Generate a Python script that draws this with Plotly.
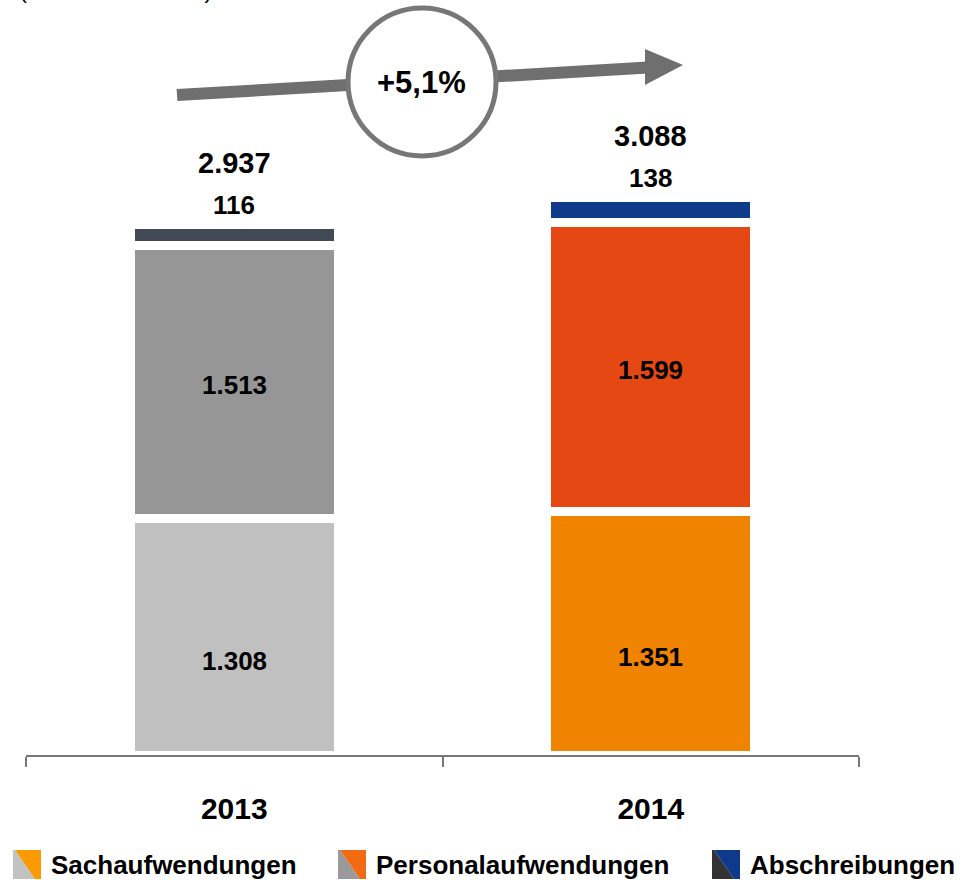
import plotly.graph_objects as go

# Aufwendungen in Mio. Euro
years = ["2013", "2014"]
sachaufwendungen = [1308, 1351]
personalaufwendungen = [1513, 1599]
abschreibungen = [116, 138]
growth_label = "+5,1%"
unit_label = "(in Millionen Euro)"
legend_names = ["Sachaufwendungen", "Personalaufwendungen", "Abschreibungen"]

# colours per year for each stack layer
col_sach = ["#c0c0c0", "#f08300"]
col_pers = ["#969696", "#e54813"]
col_abs = ["#424b55", "#0e3c8a"]
legend_cols = [("#c2c2c2", "#f99b00"), ("#9a9a9a", "#f26a12"), ("#333333", "#0f3a8c")]

FONT = "Liberation Sans, Arial, Helvetica, sans-serif"

W, H = 963, 880
ML, MR, MT, MB = 26, 104, 100, 125
PW, PH = W - ML - MR, H - MT - MB
YMAX = 3629


def fmt(v):
    return f"{v:,}".replace(",", ".")


def px(x):
    return (x - ML) / PW


def py(y):
    return (H - MB - y) / PH


fig = go.Figure()
for vals, cols in [(sachaufwendungen, col_sach), (personalaufwendungen, col_pers),
                   (abschreibungen, col_abs)]:
    fig.add_trace(go.Bar(
        x=years, y=vals, width=0.5,
        marker=dict(color=cols, line=dict(color="white", width=9)),
        hoverinfo="skip", showlegend=False,
    ))

annotations = []
totals = [a + b + c for a, b, c in zip(sachaufwendungen, personalaufwendungen, abschreibungen)]
seg_font = dict(size=26, color="black", family=FONT, weight="bold")
for i in range(len(years)):
    s, p, a = sachaufwendungen[i], personalaufwendungen[i], abschreibungen[i]
    # category position given by index on the category axis
    annotations.append(dict(xref="x", yref="y", x=i, y=s * 0.40, text=fmt(s), showarrow=False,
                            font=seg_font))
    annotations.append(dict(xref="x", yref="y", x=i, y=s + p * 0.49, text=fmt(p), showarrow=False,
                            font=seg_font))
    annotations.append(dict(xref="x", yref="y", x=i, y=totals[i], yshift=20, text=fmt(a),
                            showarrow=False, yanchor="middle", font=seg_font))
    annotations.append(dict(xref="x", yref="y", x=i, y=totals[i], yshift=62, text=fmt(totals[i]),
                            showarrow=False, yanchor="middle",
                            font=dict(size=29, color="black", family=FONT, weight="bold")))

# growth badge text
annotations.append(dict(xref="paper", yref="paper", x=px(421), y=py(83), text=growth_label,
                        showarrow=False, xanchor="center", yanchor="middle",
                        font=dict(size=31, color="black", family=FONT, weight="bold")))
# unit line at the very top
annotations.append(dict(xref="paper", yref="paper", x=px(17), y=py(-10), text=unit_label,
                        showarrow=False, xanchor="left", yanchor="middle",
                        font=dict(size=24, color="black", family=FONT)))

shapes = []
GRAY = "#6f6f6f"
# trend arrow
shapes.append(dict(type="line", xref="paper", yref="paper",
                   x0=px(177), y0=py(95), x1=px(648), y1=py(67.5),
                   line=dict(color=GRAY, width=12), layer="above"))
shapes.append(dict(type="path", xref="paper", yref="paper",
                   path=f"M {px(645)},{py(49)} L {px(683)},{py(65)} L {px(645)},{py(85)} Z",
                   fillcolor=GRAY, line=dict(width=0), layer="above"))
shapes.append(dict(type="circle", xref="paper", yref="paper",
                   x0=px(348), x1=px(496), y0=py(8), y1=py(156),
                   fillcolor="white", line=dict(color="#777777", width=5), layer="above"))

# custom legend
legend_x = [13, 338, 712]
for (x0, name, (c_left, c_right)) in zip(legend_x, legend_names, legend_cols):
    x1 = x0 + 28
    ya, yb = 850, 879
    shapes.append(dict(type="path", xref="paper", yref="paper",
                       path=(f"M {px(x0)},{py(ya)} L {px(x0 + 2)},{py(ya)} L {px(x1 - 6)},{py(yb)} "
                             f"L {px(x0)},{py(yb)} Z"),
                       fillcolor=c_left, line=dict(width=0), layer="above"))
    shapes.append(dict(type="path", xref="paper", yref="paper",
                       path=(f"M {px(x0 + 2)},{py(ya)} L {px(x1)},{py(ya)} L {px(x1)},{py(yb)} "
                             f"L {px(x1 - 6)},{py(yb)} Z"),
                       fillcolor=c_right, line=dict(width=0), layer="above"))
    annotations.append(dict(xref="paper", yref="paper", x=px(x1 + 8), y=py(865), text=name,
                            showarrow=False, xanchor="left", yanchor="middle",
                            font=dict(size=26, color="black", family=FONT, weight="bold")))

fig.update_layout(
    width=W, height=H,
    margin=dict(l=ML, r=MR, t=MT, b=MB),
    barmode="stack",
    plot_bgcolor="white", paper_bgcolor="white",
    font=dict(family=FONT, color="black"),
    annotations=annotations,
    shapes=shapes,
    xaxis=dict(
        type="category", range=[-0.5, 1.5],
        showline=True, linecolor="#777777", linewidth=2,
        ticks="outside", tickson="boundaries", ticklen=10, tickwidth=2, tickcolor="#777777",
        tickfont=dict(size=30, color="black", family=FONT, weight="bold"),
        ticklabelstandoff=26, showgrid=False, zeroline=False,
    ),
    yaxis=dict(visible=False, range=[0, YMAX], showgrid=False, zeroline=False),
)

fig.write_html("out.html")
